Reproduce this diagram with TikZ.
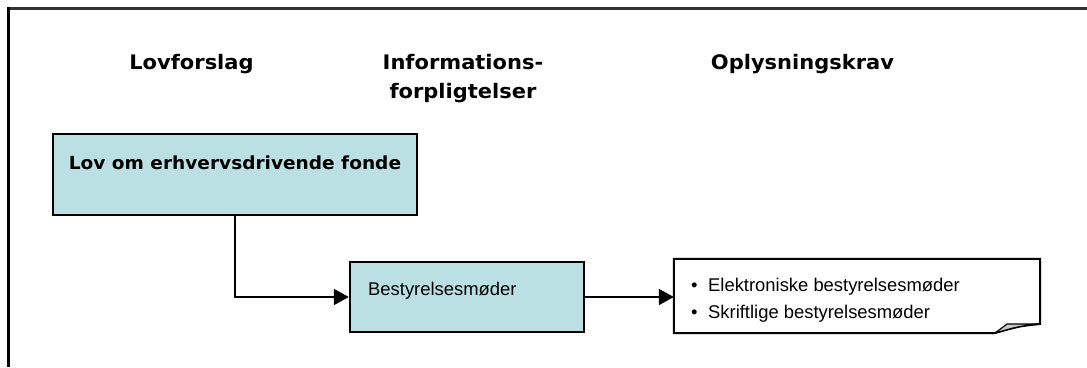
\documentclass[tikz,border=0pt]{standalone}
\usepackage{fontspec}
\usetikzlibrary{arrows.meta}
\newfontfamily\headfont[FakeStretch=1.05]{DejaVu Sans}
\newfontfamily\lovfont[FakeStretch=1.03]{DejaVu Sans}
\newfontfamily\bodyfont{Liberation Sans}
\definecolor{boxfill}{RGB}{187,224,227}
\definecolor{foldgray}{RGB}{200,200,200}
\tikzset{
  hdr/.style={font=\headfont\bfseries\fontsize{20}{24}\selectfont, inner sep=0pt, anchor=base},
  bluebox/.style={draw=black, line width=2.4pt, fill=boxfill, inner sep=0pt},
  boldtxt/.style={font=\lovfont\bfseries\fontsize{18}{22}\selectfont, inner sep=0pt, anchor=base},
  plaintxt/.style={font=\bodyfont\fontsize{18.4}{22}\selectfont, inner sep=0pt, anchor=base west},
  conn/.style={draw=black, line width=2pt, -{Triangle[length=15pt,width=16pt]}},
}
\begin{document}
\begin{tikzpicture}[x=1pt,y=-1pt]
\useasboundingbox (0,0) rectangle (1087,367);
% frame
\draw[line width=3pt, draw=black!80] (8,8.5) -- (1087,8.5);
\draw[line width=3pt, draw=black] (8,7) -- (8,367);
% headers
\node[hdr] (h1) at (191.5,69) {Lovforslag};
\node[hdr] (h2) at (463,69) {Informations-};
\node[hdr] (h2b) at (463,98) {forpligtelser};
\node[hdr] (h3) at (802.5,69) {Oplysningskrav};
% boxes
\node[bluebox, minimum width=364pt, minimum height=81pt] (lov) at (235,174.5) {};
\node[boldtxt] (lovtxt) at (235,169) {Lov om erhvervsdrivende fonde};
\node[bluebox, minimum width=234pt, minimum height=70pt] (best) at (467,297) {};
\node[plaintxt] (besttxt) at (368,295) {Bestyrelsesm\o der};
% note
\node[minimum width=366pt, minimum height=74pt, inner sep=0pt] (note) at (857,296) {};
\draw[line width=2pt, fill=white, line join=miter]
  (note.north west) -- (note.north east) -- (1040,324) .. controls (1020,326) .. (995,333) -- (note.south west) -- cycle;
\fill[foldgray, draw=black, line width=1.2pt] (995,333) -- (1007,324) -- (1040,324) .. controls (1020,326) .. cycle;
\node[plaintxt] (b1) at (691,291) {\makebox[17pt][l]{\textbullet}Elektroniske bestyrelsesm\o der};
\node[plaintxt] (b2) at (691,318) {\makebox[17pt][l]{\textbullet}Skriftlige bestyrelsesm\o der};
% connectors
\draw[conn] (lov.south) |- (best.west);
\draw[conn] (best.east) -- (best.east -| note.west);
\end{tikzpicture}
\end{document}
